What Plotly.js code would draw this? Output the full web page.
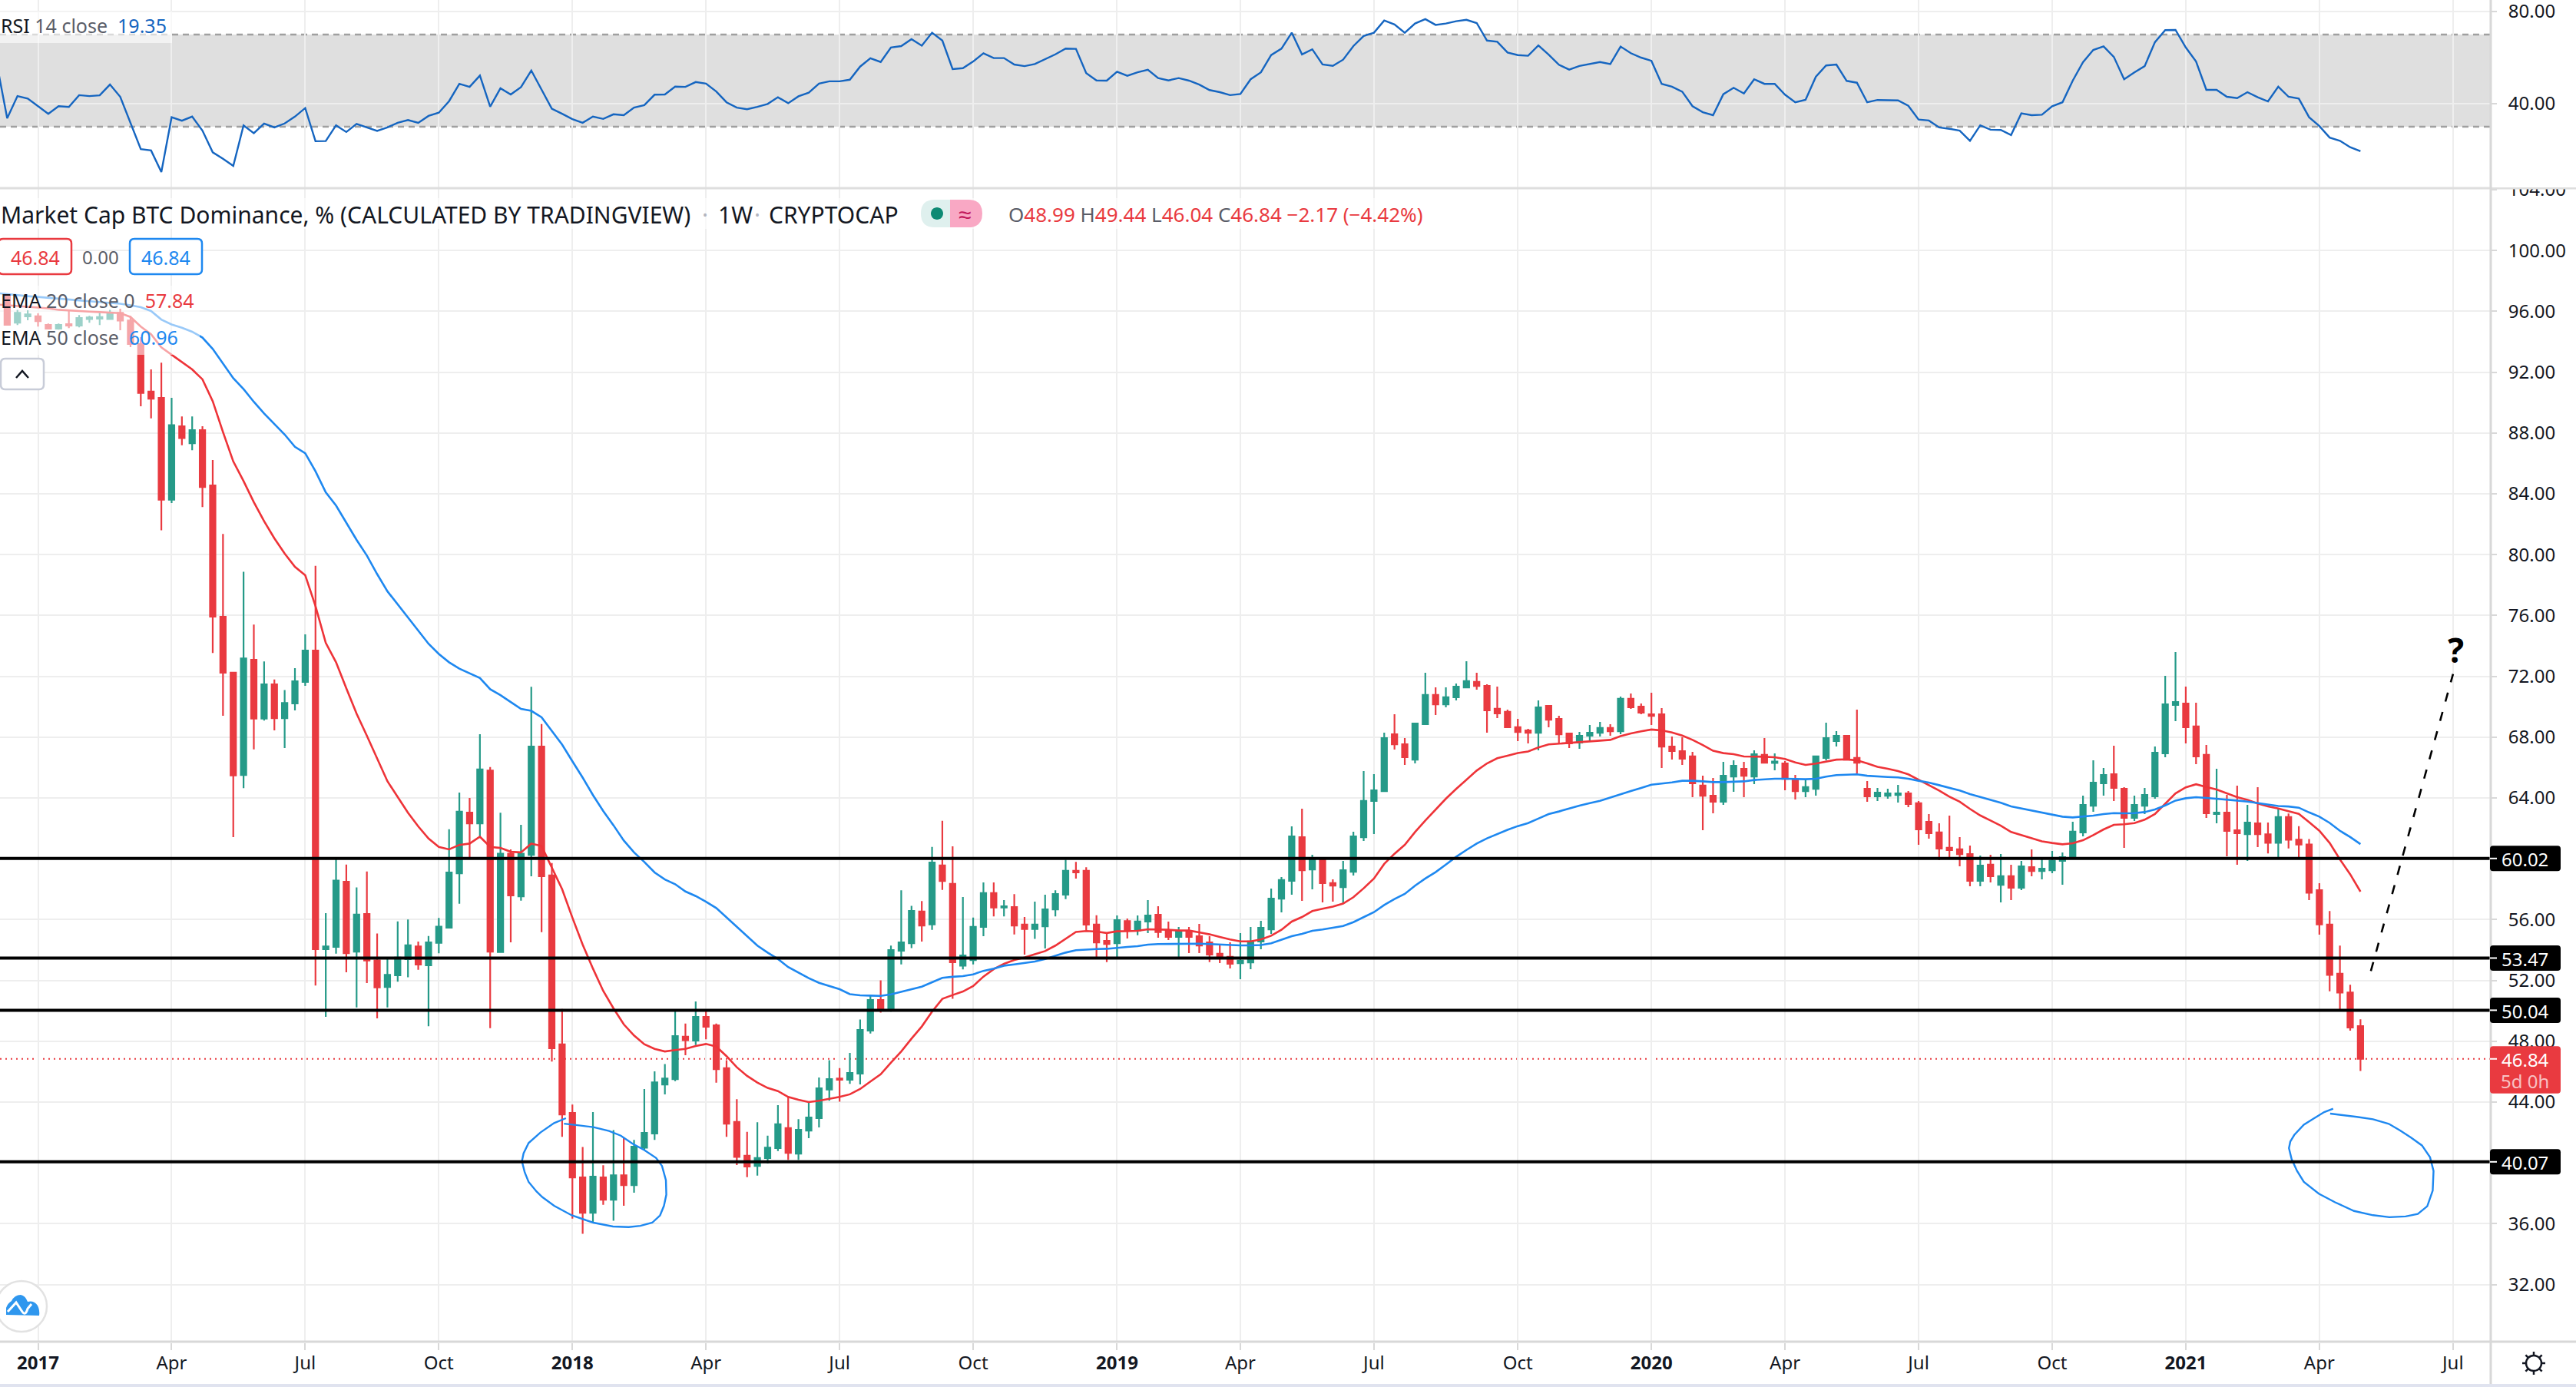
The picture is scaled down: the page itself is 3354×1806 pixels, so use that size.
<!DOCTYPE html>
<html><head><meta charset="utf-8">
<script src="https://cdn.plot.ly/plotly-3.0.1.min.js"></script>
<style>html,body{margin:0;padding:0;background:#fff}#c{width:3354px;height:1806px}</style>
</head><body><div id="c"></div>
<script>
// ---------- data ----------
const firstBarIndex = -3;          // candles start three weeks before 2017-01-02
const lineStartIndex = -4;         // lines run off the left edge
const opens = [97.13,95.26,95.67,95.67,95.1,94.86,95.16,95.06,95.5,95.52,95.5,95.9,95.4,
93.85,90.73,90.31,83.61,88.44,87.32,88.19,84.55,75.92,72.24,
65.51,73.08,69.22,71.47,69.25,70.22,71.63,73.69,54.05,54.21,
58.49,53.89,56.37,53.31,51.57,52.34,53.4,54.24,52.99,54.47,
55.47,59.04,63.03,62.32,65.8,53.86,60.33,57.53,60.26,67.38,
58.91,47.8,43.29,39.04,36.72,39.04,37.58,39.19,38.54,41,
41.93,45.16,45.51,48.3,48.05,49.6,49.05,46.23,42.69,40.47,
39.8,40.32,40.97,42.29,40.61,42.12,42.94,44.82,45.55,45.47,
45.87,48.7,50.71,50.12,53.95,54.45,56.53,55.69,59.56,58.35,
52.97,53.34,55.52,57.74,56.8,56.82,55.67,55.38,55.56,56.67,
57.64,59.21,59.21,55.67,54.6,54.45,55.9,55.28,55.87,56.32,
55.3,54.86,55.18,54.91,54.5,53.75,53.55,53.14,53.19,54.56,
55.36,57.38,58.55,61.42,59.3,60.06,58.4,58.14,59.15,61.42,
63.8,64.45,68.19,67.53,66.52,68.85,70.77,70.16,70.62,71.27,
71.63,71.37,69.86,69.66,68.65,68.44,68.29,70.06,69.2,68.24,
67.64,68.09,68.29,68.6,68.39,70.52,70.01,69.5,69.5,67.38,
67.08,66.73,64.81,64.15,63.75,65.41,65.92,65.41,66.83,66.3,
66.27,65.21,64.45,64.6,66.63,67.74,68.09,66.63,64.6,64.1,
64.15,64.2,64.3,63.65,62.43,61.73,60.72,60.62,60.31,58.55,
59.61,58.29,58.85,58.09,59.45,59.2,59.25,59.86,60.06,61.73,
63.49,64.96,65.56,64.6,62.69,63.49,64.1,66.93,70.11,70.21,
68.7,66.83,62.94,63.04,61.88,61.62,62.33,61.61,61.05,62.75,
61.25,60.94,57.93,55.68,52.44,51.2,48.99];
const highs = [97.13,96.1,96.07,95.87,95.2,95.2,96.1,95.75,95.7,95.9,96.1,96.17,95.7,
94.3,92.18,92.63,90.31,89.09,89.09,88.44,86.22,81.36,72.24,
78.88,75.4,72.98,71.79,71.1,72.53,74.76,79.27,56.43,59.97,
59.62,58.11,59.17,55.08,53.43,55.88,56.01,54.56,54.92,56.11,
61.94,64.35,64,68.19,66.03,63.03,60.62,62.23,71.31,68.86,
59.72,50.12,43.84,41.05,43.34,39.84,42.16,41.64,41.51,44.86,
46.02,46.5,50.02,49.16,50.62,50.06,49.16,46.75,44.19,42.04,
42.67,41.79,43.8,44.3,42.88,44.03,45.62,46.75,46.23,47.23,
49.43,51,52,54.29,57.93,56.9,57.22,60.78,62.5,60.82,
57.49,56.13,58.45,58.45,57.28,57.68,56.17,57.18,57.64,57.93,
59.94,59.79,59.44,56.28,55.14,56.27,56.07,56.27,57.28,56.88,
55.87,55.52,55.52,55.72,54.91,54.35,54.5,55.11,55.52,55.92,
58.04,58.8,62.13,63.29,60.26,60.06,58.65,59.86,61.78,65.77,
65.57,68.29,69.5,67.94,68.95,72.23,71.27,71.27,71.52,72.99,
72.23,71.47,71.32,69.81,69.2,68.54,70.41,70.06,69.4,68.24,
68.34,68.8,69,68.85,70.67,70.87,70.21,70.92,69.91,68.04,
67.99,67.03,65.46,65.31,66.37,66.47,66.37,67.13,67.94,66.93,
66.42,65.51,65.16,66.78,68.95,68.39,68.14,69.81,65.11,64.66,
64.6,64.86,64.45,63.8,62.94,62.33,62.84,61.42,60.87,60.21,
60.26,60.31,59.61,59.86,60.62,60.01,60.51,60.41,62.43,64.15,
66.47,65.97,67.43,64.71,64.15,64.66,67.38,72.03,73.6,71.32,
70.26,67.48,65.92,64.2,64.81,63.54,64.71,62.38,63.31,62.98,
62.15,61.3,58.39,56.56,54.29,51.71,49.44];
const lows = [95.1,95.1,95.41,95,94.85,94.8,94.9,94.95,95.25,95.1,95.45,94.76,93.65,
89.76,88.96,81.6,83.39,87.19,86.87,83.13,73.53,69.41,61.42,
64.64,67.19,69.09,68.44,67.28,69.76,71.37,51.67,49.6,53.76,
52.54,50.22,51.83,49.51,50.22,51.92,52.21,52.7,48.99,53.79,
55.44,57.04,60.04,61.36,48.86,53.86,54.5,57.24,58.85,55.18,
46.67,41.72,36.34,35.34,36.07,37.24,36.2,37.18,38.04,40.84,
41.51,44.5,45.37,47.08,47.75,48.13,45.28,41.72,39.86,39.06,
39.17,39.96,40.78,40.2,40.2,41.62,42.33,44.09,44.03,45.2,
45.16,48.51,49.89,49.95,53.05,54.12,54.56,55.33,57.95,50.79,
52.72,53.05,54.91,56.21,56.21,55.02,53.7,54.73,54.1,56.21,
57.34,58.7,55.3,53.46,53.21,53.55,54.76,54.97,55.11,54.81,
54.66,53.46,53.8,53.8,53.21,53.14,52.79,52.08,52.74,54.05,
55.06,56.47,57.64,57.23,57.99,57.13,57.18,57.08,58.9,61.17,
61.63,64.45,67.18,66.17,66.27,68.85,69.45,69.96,70.41,71.27,
71.12,68.29,69.25,68.6,67.74,67.59,67.13,68.65,67.59,67.28,
67.23,67.69,68.04,68.09,68.19,69.86,69.5,68.8,65.97,66.52,
66.17,64.05,61.88,62.99,63.54,64.4,64.05,64.91,66.27,65.82,
64.5,63.9,64.05,64.15,66.47,67.38,66.47,65.6,63.75,63.8,
63.95,63.7,63.39,60.92,61.32,59.91,59.96,59.5,58.19,58.19,
58.44,57.13,57.28,57.94,58.85,58.65,59.05,58.29,60.06,61.47,
63.09,64.15,63.8,60.72,62.48,62.94,63.95,66.68,69.05,67.58,
66.22,62.69,62.33,60.16,59.61,59.86,60.77,60.35,59.96,60.68,
60.01,57.28,55.01,51.28,49.96,48.7,46.04];
const closes = [95.11,95.9,95.8,95.36,94.86,95.1,95.06,95.56,95.6,95.62,95.9,95.4,93.85,
90.63,90.25,83.61,88.51,87.67,88.19,84.45,75.92,72.24,65.48,
73.18,69.22,71.47,69.25,70.25,71.67,73.69,54.05,54.24,58.56,
53.79,56.33,53.31,51.54,52.37,53.5,54.31,53.05,54.5,55.53,
59.1,63.1,62.32,65.87,53.89,60.33,57.59,60.33,67.38,58.85,
47.54,43.19,39.04,36.72,39.1,37.58,39.19,38.54,41.07,41.98,
45.3,45.55,48.34,48.07,49.6,48.95,46.16,42.58,40.4,39.76,
40.32,41,42.54,40.66,42.18,42.98,44.91,45.51,45.47,45.91,
48.74,50.71,50.16,53.99,54.5,56.57,55.61,59.75,58.54,53.2,
53.64,55.52,57.74,56.8,56.88,55.61,55.38,55.67,56.67,57.68,
59.21,59.1,55.67,54.5,54.4,55.97,55.31,55.87,56.27,55.18,
54.86,55.21,54.86,54.3,53.7,53.5,53.09,53.3,54.56,55.46,
57.38,58.6,61.47,59.25,60.06,58.4,58.24,59.25,61.47,63.8,
64.5,67.94,67.53,66.68,68.9,70.77,70.16,70.62,71.32,71.68,
71.37,69.76,69.56,68.65,68.34,68.29,69.96,69.15,68.19,67.59,
68.09,68.29,68.6,68.39,70.52,69.96,69.61,69.4,67.38,67.08,
66.58,64.96,64.15,63.75,65.46,66.12,65.46,66.88,66.32,66.4,
65.26,64.45,64.71,66.73,67.94,68.09,66.52,66.32,64.1,64.35,
64.3,64.3,63.6,61.93,61.68,60.67,60.57,60.31,58.55,59.55,
58.85,58.85,58.09,59.5,59.2,59.35,59.86,60.11,61.78,63.54,
65.01,65.51,64.66,62.69,63.54,64.2,66.98,70.16,70.31,68.65,
66.73,62.99,63.04,61.83,61.68,62.38,61.62,61.05,62.75,61.25,
60.94,57.77,55.68,52.36,51.2,48.91,46.84];
const ema20 = [96.45,96.4,96.35,96.3,96.25,96.2,96.1,96.05,96,95.98,95.95,95.92,95.88,95.63,
95,94.5,93.63,93.15,92.66,92.18,91.53,90.09,88.06,86.13,
84.84,83.45,82.2,81.07,80.07,79.2,78.65,76.62,74.2,72.92,
71.21,69.54,68.09,66.58,65.1,64.06,63.03,62.13,61.33,60.78,
60.62,60.91,61,61.45,60.78,60.71,60.46,60.42,61,60.84,
59.44,58,56.13,54.35,52.78,51.31,50.16,49.11,48.38,47.8,
47.5,47.33,47.42,47.5,47.69,47.82,47.65,47.02,46.29,45.72,
45.28,44.93,44.72,44.34,44.15,44,44.09,44.21,44.34,44.51,
44.86,45.35,45.83,46.6,47.33,48.17,48.97,49.95,50.79,51.04,
51.27,51.63,52.25,52.74,53.09,53.34,53.51,53.72,53.93,54.29,
54.73,55.19,55.25,55.21,55.12,55.23,55.24,55.26,55.36,55.35,
55.33,55.28,55.28,55.16,55.03,54.86,54.69,54.57,54.57,54.69,
54.94,55.33,55.87,56.17,56.56,56.71,56.85,57.05,57.47,58.06,
58.7,59.66,60.33,60.92,61.76,62.52,63.24,63.95,64.59,65.21,
65.8,66.27,66.61,66.78,66.95,67.06,67.32,67.52,67.57,67.59,
67.64,67.69,67.77,67.82,68.06,68.24,68.38,68.5,68.44,68.31,
68.1,67.82,67.48,67.1,66.95,66.88,66.73,66.73,66.71,66.68,
66.56,66.34,66.17,66.26,66.39,66.52,66.54,66.47,66.27,66.05,
65.92,65.77,65.55,65.21,64.86,64.49,64.08,63.75,63.28,62.85,
62.52,62.18,61.76,61.56,61.34,61.15,61.04,60.95,61.02,61.22,
61.56,61.93,62.23,62.27,62.35,62.57,62.94,63.61,64.3,64.7,
64.9,64.72,64.55,64.3,64.05,63.88,63.63,63.44,63.31,63.13,
62.95,62.41,61.84,61.04,59.96,58.98,57.84];
const ema50 = [97.2,97.13,97.05,97,96.95,96.9,96.85,96.78,96.72,96.66,96.6,96.55,96.5,96.4,
96.27,96.02,95.46,95.14,94.92,94.66,94.27,93.53,92.57,91.6,
90.89,90.05,89.28,88.6,87.9,87.09,86.67,85.48,84.1,83.23,
82.1,80.97,79.94,78.72,77.59,76.72,75.82,74.95,74.14,73.47,
72.92,72.5,72.18,71.89,71.15,70.76,70.31,69.86,69.73,69.31,
68.41,67.51,66.41,65.34,64.19,63.14,62.2,61.2,60.42,59.79,
59.1,58.64,58.33,57.85,57.55,57.18,56.76,56.13,55.5,54.87,
54.29,53.83,53.41,52.88,52.51,52.15,51.84,51.63,51.42,51.1,
51.02,51,50.98,51.08,51.25,51.42,51.59,51.88,52.17,52.24,
52.28,52.4,52.63,52.78,52.97,53.05,53.13,53.24,53.41,53.62,
53.83,53.99,54.04,54.06,54.08,54.15,54.2,54.25,54.35,54.39,
54.4,54.42,54.42,54.42,54.39,54.35,54.32,54.3,54.3,54.33,
54.44,54.66,54.91,55.06,55.26,55.35,55.45,55.58,55.83,56.15,
56.49,56.96,57.35,57.69,58.23,58.7,59.12,59.62,60.13,60.58,
61,61.34,61.63,61.9,62.15,62.35,62.64,62.94,63.11,63.31,
63.5,63.66,63.81,64.02,64.25,64.45,64.66,64.87,64.95,65.02,
65.13,65.13,65.09,65.04,65.04,65.08,65.09,65.18,65.23,65.26,
65.26,65.25,65.23,65.26,65.4,65.5,65.53,65.55,65.46,65.41,
65.38,65.35,65.26,65.13,65.01,64.84,64.66,64.49,64.25,64.07,
63.86,63.68,63.44,63.31,63.17,63.02,62.91,62.77,62.72,62.77,
62.84,62.94,63,62.99,63,63.07,63.24,63.51,63.83,63.98,
64.05,64,63.95,63.9,63.83,63.76,63.66,63.54,63.47,63.44,
63.36,63.05,62.77,62.36,61.84,61.43,60.96];
const rsi = [57,33.7,43.3,42.2,38.9,35.6,38.9,38.6,43.7,43.3,43.6,48.3,43,31.7,
20.3,19.7,10.3,34.1,32.6,34.4,28.3,18.9,16.1,13,
30.6,27.2,31.4,29.7,31.4,34.4,38.1,23.7,23.8,30.6,
27.7,31.2,29.7,28.2,29.7,31.7,32.9,31.7,34.7,36.1,
41.1,48.6,47.3,52.2,38.7,46.7,44,47.2,54.4,46.1,
37.8,35.6,33.3,31.7,34.4,33.4,35.4,35,38.3,39.4,
43.9,44,47.4,47.3,49.4,48.7,45.3,40.6,38.3,37.6,
38.6,39.9,42.8,40.2,43.2,44.8,48.7,49.7,49.7,50.4,
56.1,59.7,58.1,64.4,65,68,65.2,70.8,67.4,55,
55.4,58.3,61.9,59.8,59.8,57,56.3,57.2,59.4,61.4,
63.9,63.8,53.3,50.1,50,53.9,52.1,53.6,54.7,51.1,
50.1,51.1,50,48.3,45.9,45,43.7,44.2,50.6,53.6,
61.1,63.9,70.8,61.4,63.6,57,56.4,59.1,65,69.4,
70.8,76.1,74.4,70.8,74.8,76.7,74.2,74.8,75.8,76.4,
75,67.4,66.9,62.2,61.1,60.8,65.3,61.3,56.9,54.8,
56.4,57.2,58.1,57.2,64.8,61.9,60,58.6,48.6,47.4,
45.2,38.9,36.3,35,44.1,46.9,44.4,50.6,48.6,48.6,
43.9,40.6,41.7,51.7,56.6,57,49.9,49.1,40.6,41.6,
41.6,41.4,39.1,33.1,32.7,29.7,29.1,28.3,23.9,30.6,
28.7,28.6,26.4,35.8,35,35.2,38.9,40.6,50,58,
63.3,64.9,60.3,50.6,53.6,56.3,66.7,71.9,72,64.4,
58.3,46,46,43,42.4,45,42.8,41,47.4,43,
42.2,34.1,30.3,25.3,23.9,21.1,19.35];
const levels = [60.02,53.47,50.04,40.07];
const lastPrice = 46.84;
const priceTicks = [32,36,44,48,52,56,64,68,72,76,80,84,88,92,96,100,104];
const rsiTicks = [40,80];
const rsiBand = [30,70];
const dateTicks = ['2017-01-02','2017-04-03','2017-07-03','2017-10-02','2018-01-01','2018-04-02','2018-07-02','2018-10-01','2019-01-07','2019-04-01','2019-07-01','2019-10-07','2020-01-06','2020-04-06','2020-07-06','2020-10-05','2021-01-04','2021-04-05','2021-07-05'];
const dateLabels = ['<b>2017</b>','Apr','Jul','Oct','<b>2018</b>','Apr','Jul','Oct','<b>2019</b>','Apr','Jul','Oct','<b>2020</b>','Apr','Jul','Oct','<b>2021</b>','Apr','Jul'];
// hand-drawn marks, in bar index and price
const circleAIdx = [51.37,50.22,48.89,47.74,47.25,47.09,47.36,47.74,48.51,49.08,50.22,51.94,54.04,55.95,57.48,58.62,59.77,60.53,60.91,61.14,61.1,60.72,60.15,59,57.86,56.71,55.57,54.04,52.51,51.18];
const circleAPrice = [42.94,42.62,42,41.31,40.63,40.11,39.38,38.75,38.12,37.75,37.18,36.55,36.07,35.82,35.78,35.86,36.07,36.55,37.18,37.91,38.86,39.8,40.32,40.84,41.26,41.79,42.1,42.35,42.48,42.58];
const circleBIdx = [223.34,222.47,221.41,220.49,219.56,219.17,219.04,219.3,219.83,220.49,221.94,223.53,225.37,227.22,228.81,230.39,231.58,232.5,233.03,233.11,232.77,231.98,230.92,229.86,228.75,227.22,225.64,223.05];
const circleBPrice = [43.57,43.34,42.9,42.51,41.84,41.4,40.97,40.25,39.47,38.75,37.98,37.41,36.84,36.56,36.43,36.48,36.64,37.15,38.18,39.47,40.37,41.15,41.66,42.13,42.57,42.87,43.03,43.24];
const forecastIdx = [227.01,235.01];
const forecastPrice = [52.62,72.15];
const questionIdx = 235.28, questionPrice = 73.75;

// ---------- helpers ----------
const W=3354,H=1806,PW=3242,PH=1748;
const FONT='"Noto Sans", sans-serif';
const RED='#e93a40',GREEN='#259a88',BLUE='#1e88f0',TEXT='#131722',GREY='#5a5d68';
const weekDate=i=>new Date(Date.UTC(2017,0,2)+i*7*864e5).toISOString().slice(0,19).replace('T',' ');
const seq=(start,n)=>Array.from({length:n},(_,k)=>weekDate(start+k));
const candleX=seq(firstBarIndex,closes.length), lineX=seq(lineStartIndex,rsi.length);
const note=(text,x,y,size,color,anchor,extra)=>Object.assign({text,x:x/PW,y:(PH-y)/PH,xref:'paper',yref:'paper',showarrow:false,xanchor:anchor||'left',yanchor:'middle',font:{family:FONT,size,color},borderpad:0},extra||{});
// shapes in screen pixels
const pxShape=(path,fill,line,lw,layer)=>({type:'path',xref:'paper',yref:'paper',xsizemode:'pixel',ysizemode:'pixel',xanchor:0,yanchor:1,path,fillcolor:fill||'rgba(0,0,0,0)',line:{color:line||'rgba(0,0,0,0)',width:lw||0},layer:layer||'above'});
const rr=(x0,y0,x1,y1,r)=>`M${x0+r} ${-y0} L${x1-r} ${-y0} Q${x1} ${-y0} ${x1} ${-y0-r} L${x1} ${-y1+r} Q${x1} ${-y1} ${x1-r} ${-y1} L${x0+r} ${-y1} Q${x0} ${-y1} ${x0} ${-y1+r} L${x0} ${-y0-r} Q${x0} ${-y0} ${x0+r} ${-y0} Z`;
const seg=(x0,y0,x1,y1)=>`M${x0} ${-y0} L${x1} ${-y1}`;
const circ=(cx,cy,r)=>{const k=r*0.5523,y=-cy;return `M${cx-r} ${y} C${cx-r} ${y+k} ${cx-k} ${y+r} ${cx} ${y+r} C${cx+k} ${y+r} ${cx+r} ${y+k} ${cx+r} ${y} C${cx+r} ${y-k} ${cx+k} ${y-r} ${cx} ${y-r} C${cx-k} ${y-r} ${cx-r} ${y-k} ${cx-r} ${y} Z`;};
const yOf=p=>880.6+(72-p)*19.8;

const shapes=[],ann=[];
// RSI band and dashed bounds
shapes.push({type:'rect',xref:'paper',yref:'y2',x0:0,x1:1,y0:rsiBand[0],y1:rsiBand[1],fillcolor:'rgba(0,0,0,0.125)',line:{width:0},layer:'between'});
rsiBand.forEach(v=>shapes.push({type:'line',xref:'paper',yref:'y2',x0:0,x1:1,y0:v,y1:v,line:{color:'#a0a0a0',width:2.5,dash:'8px 6px'},layer:'between'}));
// last price dotted line
shapes.push({type:'line',xref:'paper',yref:'y',x0:0,x1:1,y0:lastPrice,y1:lastPrice,line:{color:RED,width:2,dash:'2px 5px'},layer:'between'});
// horizontal levels
levels.forEach(v=>shapes.push({type:'line',xref:'paper',yref:'y',x0:0,x1:1,y0:v,y1:v,line:{color:'#000',width:4},layer:'above'}));
// chrome lines
shapes.push(pxShape(seg(0,245,W,245),null,'#dedede',3));
shapes.push(pxShape(seg(0,1747,W,1747),null,'#d8d8d8',3));
shapes.push(pxShape(seg(3243,0,3243,1803),null,'#d8d8d8',3));
shapes.push(pxShape(`M0 ${-1802} L${W} ${-1802} L${W} ${-1806} L0 ${-1806} Z`,'#e0e3ef'));
// cover the clipped upper half of the top axis label
shapes.push(pxShape(`M3245 -205 L${W} -205 L${W} -244 L3245 -244 Z`,'#fff'));
// legend veils
shapes.push(pxShape(rr(0,15,224,56,0),'rgba(255,255,255,0.6)'));
shapes.push(pxShape(rr(0,258,1870,298,0),'rgba(255,255,255,0.6)'));
shapes.push(pxShape(rr(0,372,260,462,0),'rgba(255,255,255,0.55)'));
// value boxes
shapes.push(pxShape(rr(-2,311,93,357,6),'#fff',RED,2.5));
shapes.push(pxShape(rr(169,311,263,357,6),'#fff',BLUE,2.5));
// status pill
shapes.push(pxShape(`M1237 -260 L1217 -260 Q1199 -260 1199 -278 Q1199 -296 1217 -296 L1237 -296 Z`,'#dff0ee'));
shapes.push(pxShape(`M1237 -260 L1261 -260 Q1279 -260 1279 -278 Q1279 -296 1261 -296 L1237 -296 Z`,'#f9a8c4'));
shapes.push(pxShape(circ(1220,278,8),'#0e8a74'));
// collapse button
shapes.push(pxShape(rr(1,467,57,507,6),'#fff','#c8ccd8',2.5));
shapes.push(pxShape(`M21 ${-492} L29 ${-483} L37 ${-492}`,null,TEXT,2.5));
// logo button
shapes.push(pxShape(circ(28,1701,33),'#fff','#e2e2e2',2.5));
shapes.push(pxShape(`M8 -1712 L8 -1703 Q10 -1697 15 -1694 Q19 -1686 27 -1686 Q33 -1687 36 -1695 Q44 -1693 49 -1700 Q52 -1706 51 -1713 Z`,'#2f97ee'));
shapes.push(pxShape(`M10 -1708 L21 -1696 L29 -1708 Q33 -1714 36 -1704 L41 -1698`,null,'#fff',3));
// settings gear
{const cx=3299,cy=1775,r=10;
 shapes.push(pxShape(circ(cx,cy,r),null,TEXT,2.5));
 for(let k=0;k<8;k++){const a=k*Math.PI/4;shapes.push(pxShape(seg(cx+Math.cos(a)*r,cy+Math.sin(a)*r,cx+Math.cos(a)*(r+5),cy+Math.sin(a)*(r+5)),null,TEXT,2.5));}
}
// price labels
levels.forEach(v=>{const y=yOf(v);
 shapes.push(pxShape(rr(3242,y-16.5,3334,y+16.5,4),'#000'));
 shapes.push(pxShape(seg(3242,y,3251,y),null,'#fff',2));
 ann.push(note(v.toFixed(2),3288,y+1,24,'#fff','center'));
});
{const y=yOf(lastPrice);
 shapes.push(pxShape(rr(3242,y-16.5,3334,y+45,4),RED));
 shapes.push(pxShape(seg(3242,y,3251,y),null,'#fff',2));
 ann.push(note(lastPrice.toFixed(2),3288,y+1,24,'#fff','center'));
 ann.push(note('5d 0h',3288,y+29,24,'rgba(255,255,255,0.7)','center'));
}
// legend text
const sp=(c,t)=>`<span style="color:${c}">${t}</span>`;
ann.push(note(sp(TEXT,'RSI')+' '+sp(GREY,'14 close')+'  '+sp('#1565c0','19.35'),0,33,25,TEXT));
ann.push(note('Market Cap BTC Dominance, % (CALCULATED BY TRADINGVIEW)',0,279,30,TEXT));
ann.push(note(sp('#b2b5be','·'),918,279,30,TEXT,'center'));
ann.push(note('1W',934,279,30,TEXT));
ann.push(note(sp('#b2b5be','·'),986,279,30,TEXT,'center'));
ann.push(note('CRYPTOCAP',1000,279,30,TEXT));
ann.push(note('≈',1256,278,30,'#c2185b','center'));
const o=v=>sp(GREY,v);
ann.push(note(o('O')+sp(RED,'48.99')+' '+o('H')+sp(RED,'49.44')+' '+o('L')+sp(RED,'46.04')+' '+o('C')+sp(RED,'46.84')+' '+sp(RED,'−2.17 (−4.42%)'),1312,279,26,RED));
ann.push(note('46.84',46,335,25,RED,'center'));
ann.push(note('0.00',131,334,24,GREY,'center'));
ann.push(note('46.84',216,335,25,BLUE,'center'));
ann.push(note(sp(TEXT,'EMA')+' '+sp(GREY,'20 close 0')+'  '+sp(RED,'57.84'),0,391,25,TEXT));
ann.push(note(sp(TEXT,'EMA')+' '+sp(GREY,'50 close')+'  '+sp(BLUE,'60.96'),0,439,25,TEXT));
ann.push({text:'<b>?</b>',x:weekDate(questionIdx),y:questionPrice,xref:'x',yref:'y',showarrow:false,xanchor:'center',yanchor:'middle',font:{family:FONT,size:44,color:'#000'}});

const lineTrace=(x,y,color,width,yaxis,dash)=>({type:'scatter',mode:'lines',x,y,yaxis:yaxis||'y',hoverinfo:'skip',line:{color,width,dash:dash||'solid',shape:'linear'}});
const traces=[
 {type:'candlestick',x:candleX,open:opens,high:highs,low:lows,close:closes,hoverinfo:'skip',whiskerwidth:0,
  increasing:{line:{color:GREEN,width:2.2},fillcolor:GREEN},decreasing:{line:{color:RED,width:2.2},fillcolor:RED}},
 lineTrace(lineX,ema20,'#ee3338',2.6),
 lineTrace(lineX,ema50,BLUE,2.6),
 lineTrace(lineX,rsi,'#1565c0',2.4,'y2'),
 lineTrace(circleAIdx.map(weekDate),circleAPrice,BLUE,2.4),
 lineTrace(circleBIdx.map(weekDate),circleBPrice,BLUE,2.4),
 lineTrace(forecastIdx.map(weekDate),forecastPrice,'#000',2.6,'y','12px 14px')
];
const axisY={side:'right',anchor:'x',showline:false,zeroline:false,showgrid:true,gridcolor:'#eeeeee',gridwidth:2,tickmode:'array',ticks:'outside',ticklen:8,tickcolor:'#d8d8d8',tickwidth:2,tickformat:'.2f',ticklabelstandoff:10,ticklabeloverflow:'allow',tickfont:{family:FONT,size:24,color:TEXT},fixedrange:true};
Plotly.newPlot('c',traces,{
 width:W,height:H,margin:{l:0,r:W-PW,t:0,b:H-PH,pad:0},paper_bgcolor:'#fff',plot_bgcolor:'#fff',showlegend:false,boxgap:0.25,
 font:{family:FONT},hovermode:false,
 xaxis:{type:'date',range:[weekDate(-3.7),weekDate((PW-49.5)/13.38)],tickmode:'array',tickvals:dateTicks,ticktext:dateLabels,showgrid:true,gridcolor:'#eeeeee',gridwidth:2,zeroline:false,showline:false,ticks:'outside',ticklen:9,tickcolor:'#d8d8d8',tickwidth:2,ticklabelstandoff:-4,tickfont:{family:FONT,size:24,color:TEXT},rangeslider:{visible:false},fixedrange:true,anchor:'y'},
 yaxis:Object.assign({},axisY,{domain:[0,(PH-246)/PH],range:[72-(PH-880.6)/19.8,72+(880.6-246)/19.8],tickvals:priceTicks}),
 yaxis2:Object.assign({},axisY,{domain:[(PH-244)/PH,1],range:[85-244/3,85],tickvals:rsiTicks}),
 shapes,annotations:ann
},{staticPlot:true,displayModeBar:false});
</script></body></html>
